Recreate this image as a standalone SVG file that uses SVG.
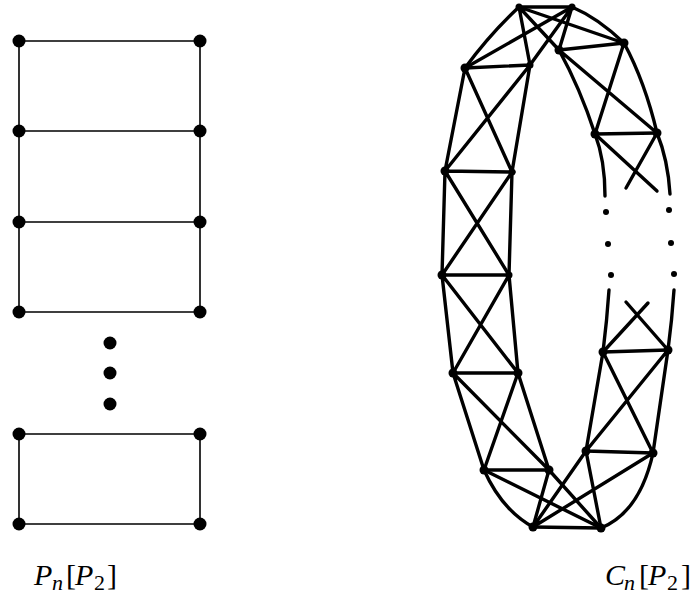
<svg xmlns="http://www.w3.org/2000/svg" width="695" height="595" viewBox="0 0 695 595">
<style>
.pe{stroke:#000;stroke-width:1.6;fill:none}
.pn{fill:#000}
.ce{stroke:#000;stroke-width:3.4;fill:none;stroke-linecap:round}
.cn{fill:#000}
.lbl{font-family:"Liberation Serif","Times New Roman",serif;font-size:30px;fill:#000}
.it{font-style:italic}
</style>
<rect width="695" height="595" fill="#fff"/>
<g id="path-graph">
<g id="pp-connectors">
<path class="pe" d="M19 41H200M19 131H200M19 222H200M19 312H200M19 41V312M200 41V312"/>
<path class="pe" d="M19 434H200M19 524H200M19 434V524M200 434V524"/>
</g>
<g id="pp-nodes">
<circle class="pn" cx="19" cy="41" r="6.5"/><circle class="pn" cx="200" cy="41" r="6.5"/>
<circle class="pn" cx="19" cy="131" r="6.5"/><circle class="pn" cx="200" cy="131" r="6.5"/>
<circle class="pn" cx="19" cy="222" r="6.5"/><circle class="pn" cx="200" cy="222" r="6.5"/>
<circle class="pn" cx="19" cy="312" r="6.5"/><circle class="pn" cx="200" cy="312" r="6.5"/>
<circle class="pn" cx="110" cy="343" r="6.5"/><circle class="pn" cx="110" cy="373" r="6.5"/><circle class="pn" cx="110" cy="404" r="6.5"/>
<circle class="pn" cx="19" cy="434" r="6.5"/><circle class="pn" cx="200" cy="434" r="6.5"/>
<circle class="pn" cx="19" cy="524" r="6.5"/><circle class="pn" cx="200" cy="524" r="6.5"/>
</g>
</g>
<g id="cycle-graph">
<g id="c-connectors">
<path class="ce" d="M519 7H572"/>
<path class="ce" d="M519 7Q490 34 465 68"/>
<path class="ce" d="M519 7L530 65M519 7L624 43M519 7L559 50"/>
<path class="ce" d="M572 7Q598 18 624 43"/>
<path class="ce" d="M572 7L465 68M572 7L530 65M572 7L559 50"/>
<path class="ce" d="M465 68L530 65M465 68L445 171M530 65L512 172M465 68L512 172M530 65L445 171"/>
<path class="ce" d="M445 171L514 172M445 171L442 275M512 172L509 275M445 171L509 275M512 172L442 275"/>
<path class="ce" d="M442 275L509 275M442 275L453 373M509 275L518 373M442 275L518 373M509 275L453 373"/>
<path class="ce" d="M453 373L518 373M453 373L484 470M518 373L549 470M453 373L549 470M518 373L484 470"/>
<path class="ce" d="M484 470L549 470"/>
<path class="ce" d="M484 470Q502 510 533 527"/>
<path class="ce" d="M484 470L601 528M549 470L533 527M549 470L601 528"/>
<path class="ce" d="M533 527L601 528"/>
<path class="ce" d="M601 528Q640 512 653 453"/>
<path class="ce" d="M533 527L653 453M533 527L586 451M601 528L586 451"/>
<path class="ce" d="M586 451L653 453M586 451L603 352M653 453L668 350M586 451L668 350M653 453L603 352"/>
<path class="ce" d="M603 352L668 350"/>
<path class="ce" d="M603 352Q607 320 609 290M668 350Q672 320 674 290"/>
<path class="ce" d="M603 352L648 303M668 350L626 302"/>
<path class="ce" d="M559 50L624 43"/>
<path class="ce" d="M559 50Q580 88 595 134M624 43Q645 82 657 133M559 50L657 133M624 43L595 134"/>
<path class="ce" d="M595 134L657 133"/>
<path class="ce" d="M595 134Q605 160 605 196M657 133Q668 160 670 194"/>
<path class="ce" d="M595 134L657 191M657 133L626 188"/>
</g>
<g id="c-nodes">
<circle class="cn" cx="519" cy="7" r="3.5"/><circle class="cn" cx="572" cy="7" r="3.5"/>
<circle class="cn" cx="465" cy="68" r="4.5"/><circle class="cn" cx="530" cy="65" r="3.5"/>
<circle class="cn" cx="445" cy="171" r="4.5"/><circle class="cn" cx="512" cy="172" r="3.5"/>
<circle class="cn" cx="442" cy="275" r="4.5"/><circle class="cn" cx="509" cy="275" r="3.5"/>
<circle class="cn" cx="453" cy="373" r="4.5"/><circle class="cn" cx="518" cy="373" r="4.5"/>
<circle class="cn" cx="484" cy="470" r="4.5"/><circle class="cn" cx="549" cy="470" r="4.5"/>
<circle class="cn" cx="533" cy="527" r="4.5"/><circle class="cn" cx="601" cy="528" r="4.5"/>
<circle class="cn" cx="586" cy="451" r="4.5"/><circle class="cn" cx="653" cy="453" r="4.5"/>
<circle class="cn" cx="603" cy="352" r="4.5"/><circle class="cn" cx="668" cy="350" r="4.5"/>
<circle class="cn" cx="595" cy="134" r="4.5"/><circle class="cn" cx="657" cy="133" r="4.5"/>
<circle class="cn" cx="559" cy="50" r="4.5"/><circle class="cn" cx="624" cy="43" r="4.5"/>
<circle class="cn" cx="606" cy="212" r="3"/><circle class="cn" cx="669" cy="210" r="3"/>
<circle class="cn" cx="608" cy="244" r="3"/><circle class="cn" cx="671" cy="243" r="3"/>
<circle class="cn" cx="611" cy="275" r="3"/><circle class="cn" cx="674" cy="274" r="3"/>
</g>
</g>
<text class="lbl" y="585"><tspan class="it" x="34">P</tspan><tspan class="it" x="52" dy="5" font-size="22">n</tspan><tspan x="66" dy="-5">[</tspan><tspan class="it" x="75">P</tspan><tspan x="94" dy="5" font-size="22">2</tspan><tspan x="107" dy="-5">]</tspan></text>
<text class="lbl" y="585"><tspan class="it" x="605">C</tspan><tspan class="it" x="624" dy="5" font-size="22">n</tspan><tspan x="639" dy="-5">[</tspan><tspan class="it" x="648">P</tspan><tspan x="667" dy="5" font-size="22">2</tspan><tspan x="681" dy="-5">]</tspan></text>
</svg>
